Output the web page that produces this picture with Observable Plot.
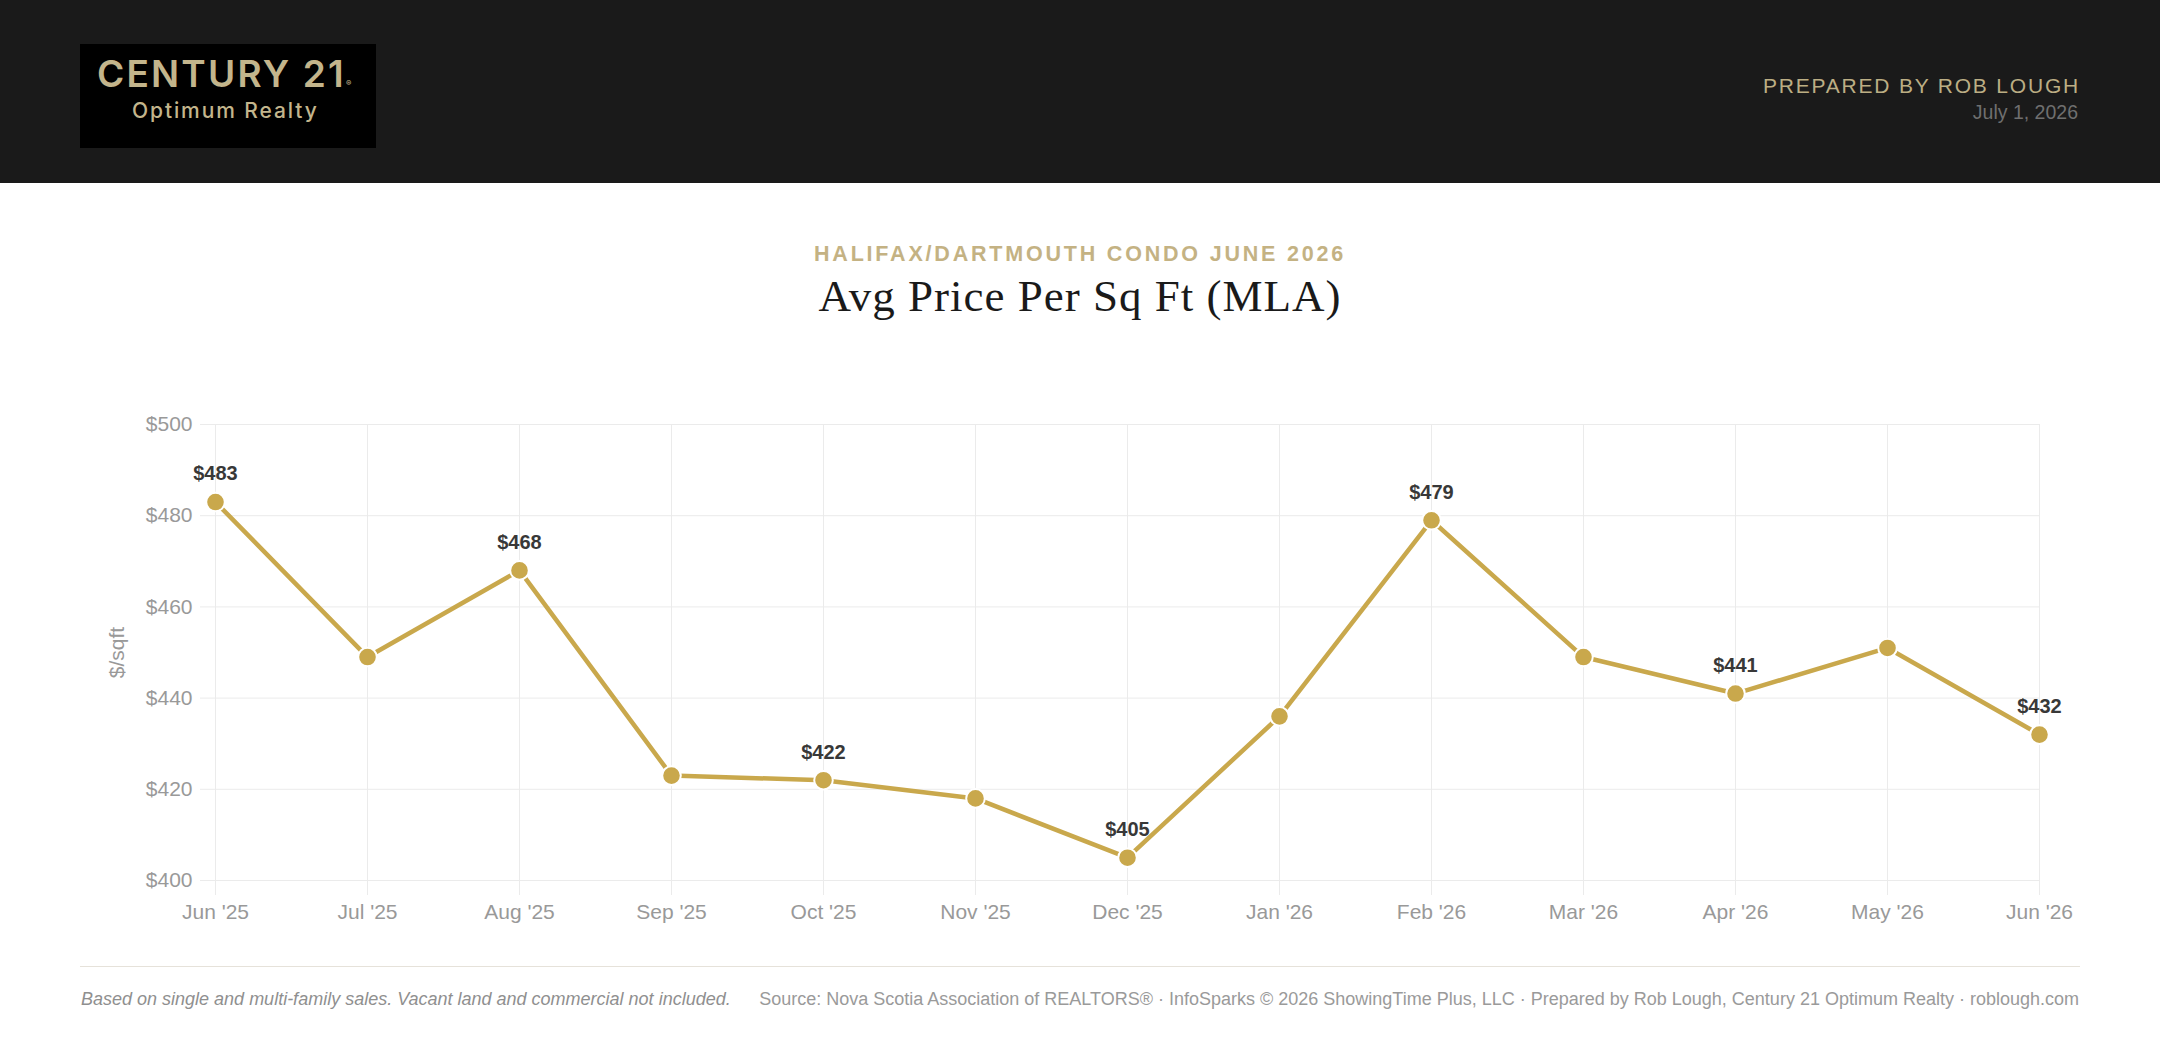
<!DOCTYPE html>
<html>
<head>
<meta charset="utf-8">
<script src="https://cdn.jsdelivr.net/npm/d3@7"></script>
<script src="https://cdn.jsdelivr.net/npm/@observablehq/plot@0.6"></script>
<style>
  html, body { margin: 0; padding: 0; background: #fff; }
  body { width: 2160px; height: 1048px; position: relative; overflow: hidden; font-family: "Liberation Sans", Arial, Helvetica, sans-serif; }
  .abs { position: absolute; white-space: nowrap; line-height: 1; }
  #header { position: absolute; left: 0; top: 0; width: 2160px; height: 183px; background: #1a1a1a; }
  #logo { position: absolute; left: 80px; top: 44px; width: 296px; height: 104px; background: #000; }
  #brand { left: 97px; top: 55px; font-family: Inter, "Noto Sans", sans-serif; font-weight: 600; font-size: 37px; letter-spacing: 2.2px; color: #c3b58c; }
  #brand sup { font-size: 8px; letter-spacing: 0; vertical-align: 0; position: relative; top: -1px; margin-left: 0; }
  #office { left: 132px; top: 100px; font-family: Inter, "Noto Sans", sans-serif; font-weight: 500; font-size: 21px; letter-spacing: 1.9px; color: #c3b58c; }
  #prepared { right: 80px; top: 75px; font-size: 21px; letter-spacing: 1.8px; color: #bcae84; }
  #date { right: 82px; top: 102.5px; font-size: 19.5px; color: #6f6f6f; }
  #kicker { left: 0; width: 2160px; text-align: center; top: 244px; font-weight: bold; font-size: 21.5px; letter-spacing: 2.8px; color: #c4b283; }
  #title { left: 0; width: 2160px; text-align: center; top: 274px; font-family: "Liberation Serif", "DejaVu Serif", serif; font-size: 45px; letter-spacing: 1px; color: #1a1a1a; }
  #chart { position: absolute; left: 0; top: 380px; }
  #rule { position: absolute; left: 80px; top: 966px; width: 2000px; height: 1px; background: #e6e2da; }
  #note { left: 81px; top: 989.5px; font-size: 18px; font-style: italic; color: #8f8f8f; }
  #source { right: 81px; top: 989.5px; font-size: 18px; color: #9a9a9a; }
</style>
</head>
<body>
<div id="header">
  <div id="logo"></div>
  <div class="abs" id="brand">CENTURY 21<sup>®</sup></div>
  <div class="abs" id="office">Optimum Realty</div>
  <div class="abs" id="prepared">PREPARED BY ROB LOUGH</div>
  <div class="abs" id="date">July 1, 2026</div>
</div>
<div class="abs" id="kicker">HALIFAX/DARTMOUTH CONDO JUNE 2026</div>
<div class="abs" id="title">Avg Price Per Sq Ft (MLA)</div>
<div id="chart"></div>
<div id="rule"></div>
<div class="abs" id="note">Based on single and multi-family sales. Vacant land and commercial not included.</div>
<div class="abs" id="source">Source: Nova Scotia Association of REALTORS® · InfoSparks © 2026 ShowingTime Plus, LLC · Prepared by Rob Lough, Century 21 Optimum Realty · roblough.com</div>

<script>
// Monthly average price per square foot, Halifax/Dartmouth condos
const months = ["Jun '25", "Jul '25", "Aug '25", "Sep '25", "Oct '25", "Nov '25", "Dec '25",
                "Jan '26", "Feb '26", "Mar '26", "Apr '26", "May '26", "Jun '26"];
const pricePerSqFt = [483, 449, 468, 423, 422, 418, 405, 436, 479, 449, 441, 451, 432];
// Months whose value is printed above the point
const labelled = [true, false, true, false, true, false, true, false, true, false, true, false, true];
const yTicks = [400, 420, 440, 460, 480, 500];

const rows = months.map((month, i) => ({month, value: pricePerSqFt[i], labelled: labelled[i]}));

const gold = "#c9a84c";
const grid = "#ebebeb";

const chart = Plot.plot({
  width: 2160,
  height: 560,
  marginTop: 44,
  marginBottom: 60,
  marginLeft: 215,
  marginRight: 121,
  style: {fontFamily: "'Liberation Sans', Arial, Helvetica, sans-serif", background: "transparent", overflow: "visible"},
  x: {type: "point", domain: months, padding: 0},
  y: {domain: [400, 500]},
  marks: [
    Plot.gridX(months, {stroke: grid, strokeOpacity: 1}),
    Plot.gridY(yTicks, {stroke: grid, strokeOpacity: 1}),
    Plot.axisX({tickSize: 15, tickPadding: 9, stroke: grid, strokeOpacity: 1, fill: "#999", fontSize: 21, label: null}),
    Plot.axisY({ticks: yTicks, tickSize: 15, tickPadding: 8, stroke: grid, strokeOpacity: 1, fill: "#999", fontSize: 21,
                tickFormat: d => "$" + d, label: "$/sqft", labelAnchor: "center", labelArrow: "none", labelOffset: 106}),
    Plot.line(rows, {x: "month", y: "value", stroke: gold, strokeWidth: 4.5, strokeLinejoin: "round"}),
    Plot.dot(rows, {x: "month", y: "value", r: 9.3, fill: gold, stroke: "#fff", strokeWidth: 2}),
    Plot.text(rows.filter(d => d.labelled), {x: "month", y: "value", text: d => "$" + d.value, dy: -28,
              fontSize: 20, fontWeight: "bold", fill: "#383838"})
  ]
});
document.getElementById("chart").appendChild(chart);
</script>
</body>
</html>
